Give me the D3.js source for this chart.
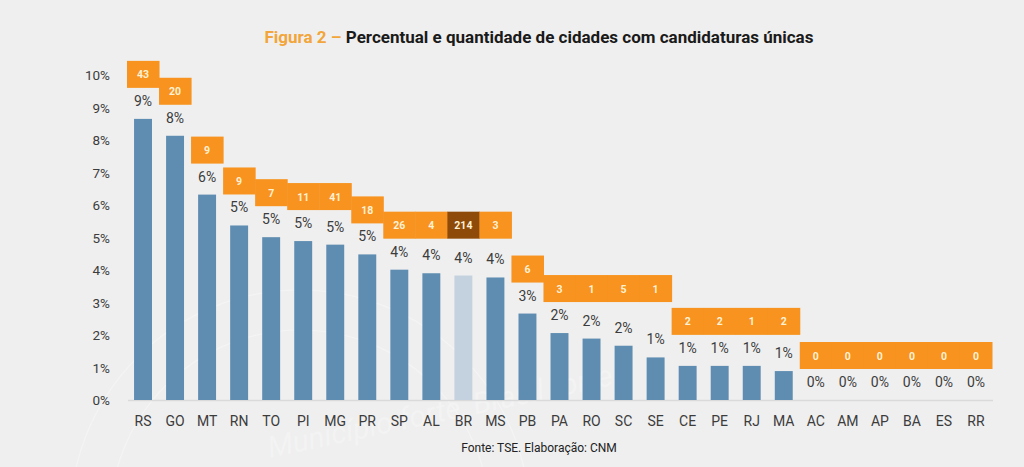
<!DOCTYPE html>
<html>
<head>
<meta charset="utf-8">
<script src="https://cdn.jsdelivr.net/npm/d3@7"></script>
<style>
  html, body { margin: 0; padding: 0; background: #efefef; }
  svg { display: block; }
</style>
</head>
<body>
<svg id="chart" width="1024" height="467"></svg>
<script>
// ---- data ----
const categories = ["RS","GO","MT","RN","TO","PI","MG","PR","SP","AL","BR","MS","PB","PA","RO","SC","SE","CE","PE","RJ","MA","AC","AM","AP","BA","ES","RR"];
const percentValues = [8.65,8.13,6.32,5.37,5.01,4.89,4.78,4.48,4.01,3.90,3.83,3.77,2.66,2.06,1.89,1.67,1.31,1.05,1.05,1.05,0.89,0,0,0,0,0,0];
const percentLabels = ["9%","8%","6%","5%","5%","5%","5%","5%","4%","4%","4%","4%","3%","2%","2%","2%","1%","1%","1%","1%","1%","0%","0%","0%","0%","0%","0%"];
const cityCounts = [43,20,9,9,7,11,41,18,26,4,214,3,6,3,1,5,1,2,2,1,2,0,0,0,0,0,0];
const boxGroups = [0,1,2,3,4,5,5,6,7,7,7,7,8,9,9,9,9,10,10,10,10,11,11,11,11,11,11];
const yTicks = [0,1,2,3,4,5,6,7,8,9,10];
const highlight = "BR";

// ---- layout ----
const svg = d3.select("#chart");
const baseY = 400, topY = 75;

const x = d3.scaleBand().domain(categories).range([127, 992]).padding(0);
const y = d3.scaleLinear().domain([0, 10]).range([baseY, topY]);

const barW = x.bandwidth() * 0.56;
const blue = "#5f8db1", lightBlue = "#c3d2de";
const orange = "#f7931e", darkOrange = "#8e4a08";
const textCol = "#3c3c3c";
const font = "Roboto, 'Liberation Sans', Arial, sans-serif";

// watermark (very faint)
const wm = svg.append("g").attr("fill", "none").attr("stroke", "#f4f4f4").attr("stroke-width", 1.2);
wm.append("circle").attr("cx", 300).attr("cy", 520).attr("r", 230);
wm.append("circle").attr("cx", 300).attr("cy", 520).attr("r", 190);
svg.append("text").attr("x", 270).attr("y", 458).attr("transform", "rotate(-12,270,458)")
  .attr("fill", "#f3f3f3").attr("font-family", font).attr("font-size", 30).attr("font-style", "italic")
  .text("Município forte, Brasil forte");

// title
const title = svg.append("text").attr("x", 539).attr("y", 43).attr("text-anchor", "middle")
  .attr("font-family", font).attr("font-size", 17).attr("font-weight", 700);
title.append("tspan").attr("fill", "#f2a53a").text("Figura 2 – ");
title.append("tspan").attr("fill", "#1a1a1a").text("Percentual e quantidade de cidades com candidaturas únicas");

// y ticks
svg.append("g").selectAll("text").data(yTicks).join("text")
  .attr("x", 110).attr("y", d => y(d) + 5).attr("text-anchor", "end")
  .attr("font-family", font).attr("font-size", 13.5).attr("fill", textCol)
  .text(d => d + "%");

// baseline
svg.append("line").attr("x1", 128).attr("x2", 993).attr("y1", baseY + 0.5).attr("y2", baseY + 0.5)
  .attr("stroke", "#dadada").attr("stroke-width", 1.5);

const data = categories.map((c, i) => ({ c, v: percentValues[i], lab: percentLabels[i], n: cityCounts[i], g: boxGroups[i] }));
const groupMax = d3.rollup(data, vs => d3.max(vs, d => d.v), d => d.g);

// bars
svg.append("g").selectAll("rect").data(data.filter(d => d.v > 0)).join("rect")
  .attr("x", d => x(d.c) + (x.bandwidth() - barW) / 2)
  .attr("width", barW)
  .attr("y", d => y(d.v))
  .attr("height", d => baseY - y(d.v))
  .attr("fill", d => d.c === highlight ? lightBlue : blue);

// percent labels
svg.append("g").selectAll("text").data(data).join("text")
  .attr("x", d => x(d.c) + x.bandwidth() / 2)
  .attr("y", d => y(d.v) - 18 + 5)
  .attr("text-anchor", "middle")
  .attr("font-family", font).attr("font-size", 14).attr("fill", textCol)
  .text(d => d.lab);

// count boxes
const boxH = 27;
const boxes = svg.append("g");
boxes.selectAll("rect").data(data).join("rect")
  .attr("x", d => x(d.c))
  .attr("width", x.bandwidth() + 0.5)
  .attr("y", d => y(groupMax.get(d.g)) - 31 - boxH)
  .attr("height", boxH)
  .attr("fill", d => d.c === highlight ? darkOrange : orange);
boxes.selectAll("text").data(data).join("text")
  .attr("x", d => x(d.c) + x.bandwidth() / 2)
  .attr("y", d => y(groupMax.get(d.g)) - 31 - boxH / 2 + 4)
  .attr("text-anchor", "middle")
  .attr("font-family", font).attr("font-size", 10.5).attr("font-weight", 700)
  .attr("fill", "#fff1d4")
  .text(d => d.n);

// x labels
svg.append("g").selectAll("text").data(categories).join("text")
  .attr("x", d => x(d) + x.bandwidth() / 2)
  .attr("y", 426)
  .attr("text-anchor", "middle")
  .attr("font-family", font).attr("font-size", 14).attr("fill", textCol)
  .text(d => d);

// footer
svg.append("text").attr("x", 539).attr("y", 452).attr("text-anchor", "middle")
  .attr("font-family", font).attr("font-size", 12).attr("fill", "#222")
  .text("Fonte: TSE. Elaboração: CNM");
</script>
</body>
</html>
